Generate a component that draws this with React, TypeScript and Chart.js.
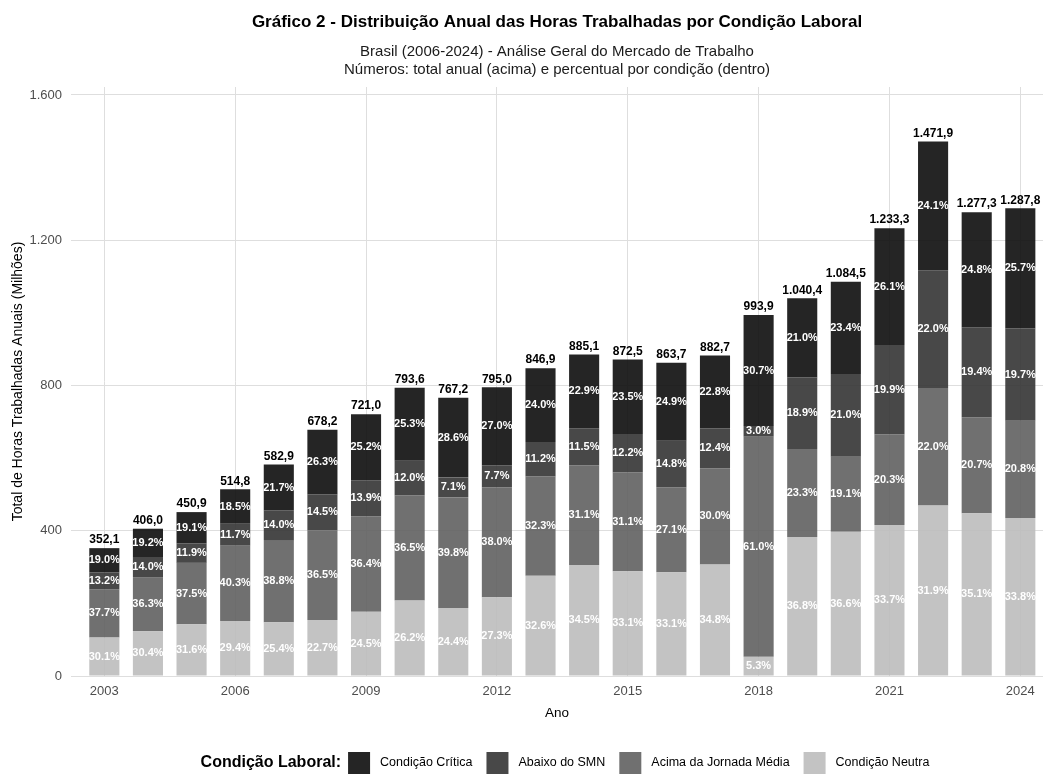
import React, { useEffect, useRef } from "react";
import { Chart, registerables } from "chart.js";

Chart.register(...registerables);

// ---------- DATA ----------
const years = [2003, 2004, 2005, 2006, 2007, 2008, 2009, 2010, 2011, 2012, 2013, 2014, 2015, 2016, 2017, 2018, 2019, 2020, 2021, 2022, 2023, 2024];
const totals = [352.1, 406.0, 450.9, 514.8, 582.9, 678.2, 721.0, 793.6, 767.2, 795.0, 846.9, 885.1, 872.5, 863.7, 882.7, 993.9, 1040.4, 1084.5, 1233.3, 1471.9, 1277.3, 1287.8];
const pctCritica = [19.0, 19.2, 19.1, 18.5, 21.7, 26.3, 25.2, 25.3, 28.6, 27.0, 24.0, 22.9, 23.5, 24.9, 22.8, 30.7, 21.0, 23.4, 26.1, 24.1, 24.8, 25.7];
const pctAbaixoSMN = [13.2, 14.0, 11.9, 11.7, 14.0, 14.5, 13.9, 12.0, 7.1, 7.7, 11.2, 11.5, 12.2, 14.8, 12.4, 3.0, 18.9, 21.0, 19.9, 22.0, 19.4, 19.7];
const pctAcimaJornada = [37.7, 36.3, 37.5, 40.3, 38.8, 36.5, 36.4, 36.5, 39.8, 38.0, 32.3, 31.1, 31.1, 27.1, 30.0, 61.0, 23.3, 19.1, 20.3, 22.0, 20.7, 20.8];
const pctNeutra = [30.1, 30.4, 31.6, 29.4, 25.4, 22.7, 24.5, 26.2, 24.4, 27.3, 32.6, 34.5, 33.1, 33.1, 34.8, 5.3, 36.8, 36.6, 33.7, 31.9, 35.1, 33.8];

const seriesNames = ["Condição Crítica", "Abaixo do SMN", "Acima da Jornada Média", "Condição Neutra"];
const seriesColors = ["rgba(13,13,13,0.9)", "rgba(52,52,52,0.9)", "rgba(96,96,96,0.9)", "rgba(189,189,189,0.9)"];
const yTickValues = [0, 400, 800, 1200, 1600];
const xTickValues = [2003, 2006, 2009, 2012, 2015, 2018, 2021, 2024];

const titleText = "Gráfico 2 - Distribuição Anual das Horas Trabalhadas por Condição Laboral";
const subtitleLines = ["Brasil (2006-2024) - Análise Geral do Mercado de Trabalho", "Números: total anual (acima) e percentual por condição (dentro)"];
const xAxisTitle = "Ano";
const yAxisTitle = "Total de Horas Trabalhadas Anuais (Milhões)";
const legendTitle = "Condição Laboral:";

// ---------- HELPERS ----------
const SANS = "'Liberation Sans', Arial, sans-serif";

function groupThousands(intStr: string): string {
  return intStr.replace(/\B(?=(\d{3})+(?!\d))/g, ".");
}
function fmtTotal(v: number): string {
  const [i, d] = v.toFixed(1).split(".");
  return groupThousands(i) + "," + d;
}
function fmtTick(v: number): string {
  return groupThousands(String(Math.round(v)));
}

const pctBySeries = [pctCritica, pctAbaixoSMN, pctAcimaJornada, pctNeutra];

export default function App() {
  const canvasRef = useRef<HTMLCanvasElement | null>(null);

  useEffect(() => {
    document.body.style.margin = "0";
    const canvas = canvasRef.current;
    if (!canvas) return;

    // datasets bottom -> top (Neutra first)
    const order = [3, 2, 1, 0];
    const datasets = order.map((si) => ({
      label: seriesNames[si],
      data: years.map((y, i) => ({ x: y, y: (totals[i] * pctBySeries[si][i]) / 100 })),
      backgroundColor: seriesColors[si],
      borderWidth: 0,
      categoryPercentage: 1.0,
      barPercentage: 0.69,
      pct: pctBySeries[si],
    }));

    const labelsPlugin = {
      id: "labelsPlugin",
      afterDatasetsDraw(chart: any) {
        const ctx = chart.ctx;
        ctx.save();
        ctx.textAlign = "center";
        ctx.textBaseline = "middle";
        ctx.font = `bold 11px ${SANS}`;
        ctx.fillStyle = "#ffffff";
        chart.data.datasets.forEach((ds: any, di: number) => {
          const meta = chart.getDatasetMeta(di);
          meta.data.forEach((el: any, i: number) => {
            const cy = (el.y + el.base) / 2;
            ctx.fillText(ds.pct[i].toFixed(1) + "%", el.x, cy);
          });
        });
        // totals
        const topMeta = chart.getDatasetMeta(chart.data.datasets.length - 1);
        ctx.font = `bold 12px ${SANS}`;
        ctx.fillStyle = "#000000";
        ctx.textBaseline = "bottom";
        topMeta.data.forEach((el: any, i: number) => {
          ctx.fillText(fmtTotal(totals[i]), el.x, el.y - 2);
        });
        ctx.restore();
      },
    };

    const titlePlugin = {
      id: "titlePlugin",
      afterDraw(chart: any) {
        const ctx = chart.ctx;
        const ca = chart.chartArea;
        const cx = (ca.left + ca.right) / 2;
        ctx.save();
        ctx.textAlign = "center";
        ctx.textBaseline = "middle";
        ctx.fillStyle = "#000000";
        ctx.font = `bold 17px ${SANS}`;
        ctx.fillText(titleText, cx, 22);
        ctx.font = `15px ${SANS}`;
        ctx.fillStyle = "#1a1a1a";
        ctx.fillText(subtitleLines[0], cx, 52);
        ctx.fillText(subtitleLines[1], cx, 70);

        // legend
        const legY = 763;
        const box = 22;
        const titleFont = `bold 16px ${SANS}`;
        const labelFont = `12.5px ${SANS}`;
        ctx.font = titleFont;
        const titleW = ctx.measureText(legendTitle).width;
        ctx.font = labelFont;
        const labelWs = seriesNames.map((n) => ctx.measureText(n).width);
        const gapTitleBox = 7;
        const gapBoxLabel = 10;
        const gapLabelBox = 14;
        let total = titleW + gapTitleBox;
        labelWs.forEach((w, k) => {
          total += box + gapBoxLabel + w + (k < labelWs.length - 1 ? gapLabelBox : 0);
        });
        let x = cx - total / 2 + 8;
        ctx.textAlign = "left";
        ctx.fillStyle = "#000000";
        ctx.font = titleFont;
        ctx.fillText(legendTitle, x, legY);
        x += titleW + gapTitleBox;
        ctx.font = labelFont;
        seriesNames.forEach((n, k) => {
          ctx.fillStyle = seriesColors[k];
          ctx.fillRect(x, legY - box / 2, box, box);
          x += box + gapBoxLabel;
          ctx.fillStyle = "#000000";
          ctx.fillText(n, x, legY);
          x += labelWs[k] + gapLabelBox;
        });
        ctx.restore();
      },
    };

    const chart = new Chart(canvas, {
      type: "bar",
      data: { datasets: datasets as any },
      options: {
        animation: false,
        responsive: false,
        devicePixelRatio: 1,
        layout: { padding: { top: 87, right: 1, bottom: 53, left: 0 } },
        plugins: {
          legend: { display: false },
          title: { display: false },
          tooltip: { enabled: false },
        },
        scales: {
          x: {
            type: "linear",
            stacked: true,
            offset: false,
            min: 2002.236,
            max: 2024.52,
            afterBuildTicks: (s: any) => {
              s.ticks = xTickValues.map((v) => ({ value: v }));
            },
            afterFit: (s: any) => {
              s.height = 45;
            },
            grid: { color: "#dedede", lineWidth: 1, drawTicks: false, offset: false },
            border: { display: false },
            ticks: {
              font: { family: SANS, size: 13 },
              color: "#4d4d4d",
              padding: 8,
              maxRotation: 0,
              autoSkip: false,
              callback: (v: any) => String(v),
            },
            title: {
              display: true,
              text: xAxisTitle,
              font: { family: SANS, size: 13.5 },
              color: "#000000",
              padding: { top: 0, bottom: 0 },
            },
          },
          y: {
            stacked: true,
            min: 0,
            max: 1622,
            afterBuildTicks: (s: any) => {
              s.ticks = yTickValues.map((v) => ({ value: v }));
            },
            afterFit: (s: any) => {
              s.width = 71;
            },
            grid: { color: "#dedede", lineWidth: 1, drawTicks: false },
            border: { display: false },
            ticks: {
              font: { family: SANS, size: 13 },
              color: "#4d4d4d",
              padding: 9,
              callback: (v: any) => fmtTick(Number(v)),
            },
            title: {
              display: true,
              text: yAxisTitle,
              font: { family: SANS, size: 14 },
              color: "#000000",
              padding: { top: 10, bottom: 0 },
            },
          },
        },
      } as any,
      plugins: [labelsPlugin, titlePlugin],
    });

    return () => chart.destroy();
  }, []);

  return (
    <div style={{ width: 1044, height: 774 }}>
      <canvas ref={canvasRef} width={1044} height={774} style={{ display: "block" }} />
    </div>
  );
}
